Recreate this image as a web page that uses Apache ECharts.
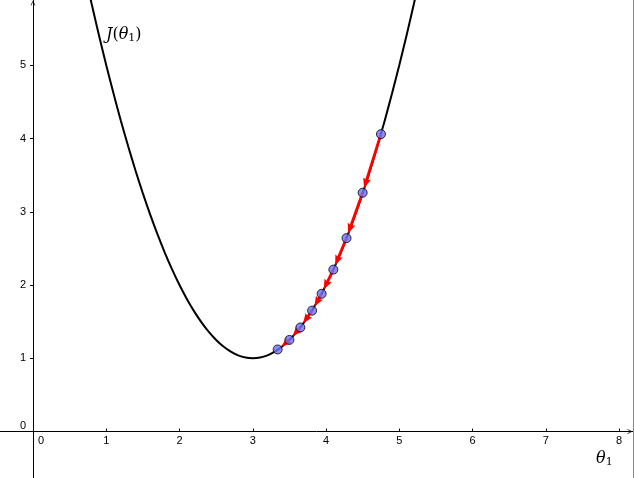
<!DOCTYPE html>
<html>
<head>
<meta charset="utf-8">
<script src="https://cdn.jsdelivr.net/npm/echarts@6/dist/echarts.min.js"></script>
<style>
html,body{margin:0;padding:0;background:#fff;}
#c{width:633px;height:478px;border-right:1px solid #8a8a8a;}
</style>
</head>
<body>
<div id="c"></div>
<script>
// Cost curve J(theta1)
var curveTheta = [0.6,0.7,0.8,0.9,1.0,1.1,1.2,1.3,1.4,1.5,1.6,1.7,1.8,1.9,2.0,2.1,2.2,2.3,2.4,2.5,2.6,2.7,2.8,2.9,3.0,
                  3.1,3.2,3.3,3.4,3.5,3.6,3.7,3.8,3.9,4.0,4.1,4.2,4.3,4.4,4.5,4.6,4.7,4.8,4.9,5.0,5.1,5.2,5.3,5.4];
var curveJ     = [6.76,6.29,5.84,5.41,5.00,4.61,4.24,3.89,3.56,3.25,2.96,2.69,2.44,2.21,2.00,1.81,1.64,1.49,1.36,1.25,1.16,1.09,1.04,1.01,1.00,
                  1.01,1.04,1.09,1.16,1.25,1.36,1.49,1.64,1.81,2.00,2.21,2.44,2.69,2.96,3.25,3.56,3.89,4.24,4.61,5.00,5.41,5.84,6.29,6.76];
// Gradient descent steps
var stepTheta = [4.75,4.50,4.28,4.10,3.94,3.81,3.65,3.50,3.34];
var stepJ     = [4.06,3.26,2.64,2.21,1.88,1.65,1.42,1.25,1.12];
// Tick labels
var xTicks = [0,1,2,3,4,5,6,7,8];
var yTicks = [0,1,2,3,4,5];

var curveData = curveTheta.map(function(t,i){return [t, curveJ[i]];});
var pointData = stepTheta.map(function(t,i){return [t, stepJ[i]];});
var arrowData = [];
for (var i = 0; i < stepTheta.length - 1; i++) {
  arrowData.push([stepTheta[i], stepJ[i], stepTheta[i+1], stepJ[i+1]]);
}

var chevron = 'path://M0,10 L5,0 L10,10 L8.6,10 L5,2.8 L1.4,10 Z';
var FONT = 'Liberation Sans, Arial, sans-serif';
var SERIF = 'DejaVu Serif, Liberation Serif, serif';

function renderArrow(params, api) {
  var p1 = api.coord([api.value(0), api.value(1)]);
  var p2 = api.coord([api.value(2), api.value(3)]);
  var dx = p2[0] - p1[0], dy = p2[1] - p1[1];
  var len = Math.sqrt(dx * dx + dy * dy) || 1;
  var ux = dx / len, uy = dy / len;
  var nx = -uy, ny = ux;
  var R = 4.8, L = 10, W = 4;
  var tip = [p2[0] - ux * R, p2[1] - uy * R];
  var base = [tip[0] - ux * L, tip[1] - uy * L];
  var notch = [base[0] + ux * 1.5, base[1] + uy * 1.5];
  return {
    type: 'group',
    children: [
      {type: 'line', shape: {x1: p1[0], y1: p1[1], x2: notch[0], y2: notch[1]},
       style: {stroke: '#ff0000', lineWidth: 2.8}},
      {type: 'polygon', shape: {points: [tip, [base[0] + nx * W, base[1] + ny * W], notch, [base[0] - nx * W, base[1] - ny * W]]},
       style: {fill: '#ff0000'}}
    ]
  };
}

var chart = echarts.init(document.getElementById('c'));
chart.setOption({
  animation: false,
  backgroundColor: '#fff',
  grid: {left: 0, right: 0, top: 0, bottom: 0, containLabel: false, outerBoundsMode: 'none'},
  xAxis: {
    type: 'value', min: -0.4508, max: 8.191, position: 'bottom', offset: -46.5,
    splitLine: {show: false},
    axisLine: {onZero: false, lineStyle: {color: '#000', width: 1}, symbol: ['none', chevron], symbolSize: [7, 5], symbolOffset: [0, -3]},
    axisTick: {show: true, inside: true, length: 3, lineStyle: {color: '#000'}, customValues: xTicks.slice(1)},
    axisLabel: {
      customValues: xTicks, margin: 4,
      fontFamily: FONT, fontSize: 11, color: '#000',
      formatter: function(v){ return v === 0 ? '{z|0}' : String(v); },
      rich: {z: {fontFamily: FONT, fontSize: 11, color: '#000', padding: [0, 0, 0, 16]}}
    }
  },
  yAxis: {
    type: 'value', min: -0.635, max: 5.891, position: 'left', offset: -33,
    splitLine: {show: false},
    axisLine: {onZero: false, lineStyle: {color: '#000', width: 1}, symbol: ['none', chevron], symbolSize: [7, 5], symbolOffset: [0, -3]},
    axisTick: {show: true, inside: false, length: 3, lineStyle: {color: '#000'}, customValues: yTicks.slice(1)},
    axisLabel: {
      customValues: yTicks, margin: 7,
      fontFamily: FONT, fontSize: 11, color: '#000',
      formatter: function(v){ return v === 0 ? '{z|0}' : String(v); },
      rich: {z: {fontFamily: FONT, fontSize: 11, color: '#000', padding: [0, 0, 11, 0]}}
    }
  },
  series: [
    {
      type: 'line', data: curveData, smooth: 0.2, showSymbol: false,
      lineStyle: {color: '#000', width: 2}, z: 2, silent: true
    },
    {
      type: 'custom', data: arrowData, renderItem: renderArrow,
      encode: {x: [0, 2], y: [1, 3]}, z: 3, silent: true
    },
    {
      type: 'scatter', data: pointData, symbol: 'circle', symbolSize: 9,
      itemStyle: {color: '#7070f8', borderColor: '#000', borderWidth: 1}, z: 4, silent: true
    }
  ],
  graphic: [
    {
      type: 'text', left: 106, top: 27,
      style: {
        text: '{i|J}{n|(}{i|θ}{s|1}{n|)}',
        rich: {
          i: {fontFamily: SERIF, fontStyle: 'italic', fontSize: 16, fill: '#000'},
          n: {fontFamily: SERIF, fontSize: 16, fill: '#000'},
          s: {fontFamily: SERIF, fontSize: 11, fill: '#000', padding: [7, 0, 0, 0]}
        }
      }
    },
    {
      type: 'text', left: 596, top: 451,
      style: {
        text: '{i|θ}{s|1}',
        rich: {
          i: {fontFamily: SERIF, fontStyle: 'italic', fontSize: 16, fill: '#000'},
          s: {fontFamily: SERIF, fontSize: 11, fill: '#000', padding: [7, 0, 0, 0]}
        }
      }
    }
  ]
});
</script>
</body>
</html>
